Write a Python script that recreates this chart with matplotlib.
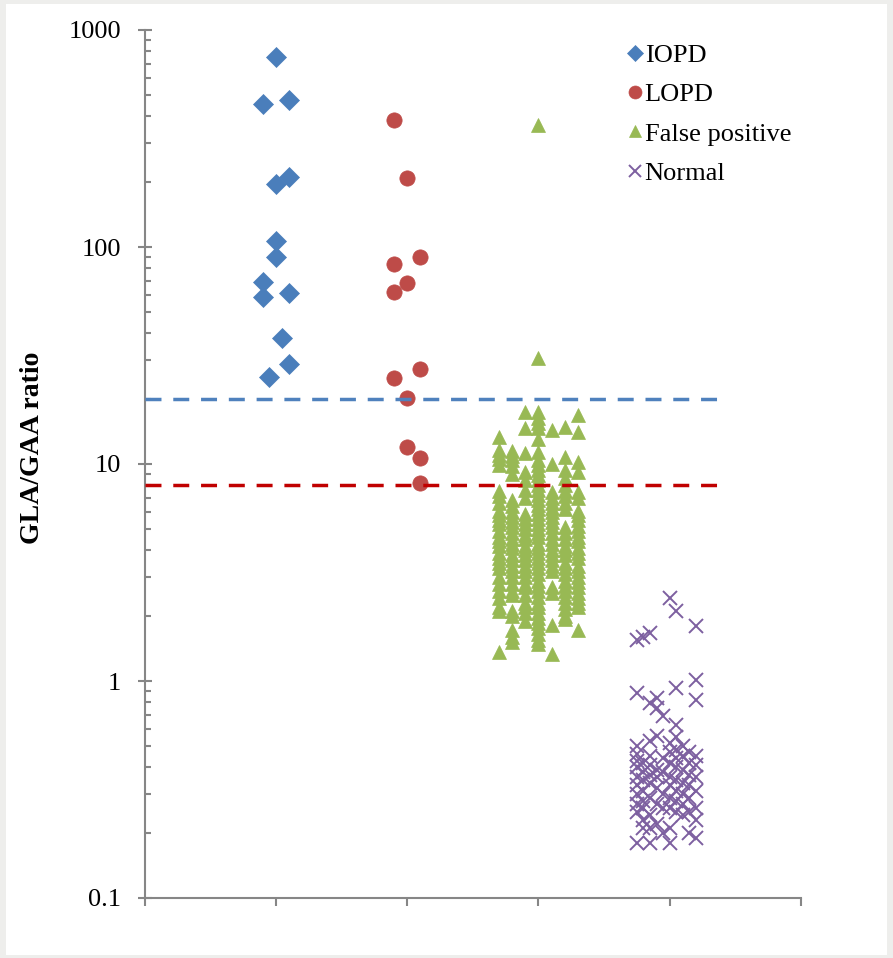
import matplotlib.pyplot as plt
import numpy as np
from matplotlib.patches import Rectangle
from matplotlib.ticker import LogLocator, NullFormatter

plt.rcParams['font.family'] = ['Liberation Serif', 'DejaVu Serif']

# IOPD
iopd_x = [1.0, 0.9, 1.1, 1.0, 1.1, 1.0, 1.0, 0.9, 0.9, 1.1, 1.05, 1.1, 0.95]
iopd_y = [753, 456, 476, 195, 210, 107, 90, 69, 59, 61.6, 37.9, 28.8, 25.3]

# LOPD
lopd_x = [1.9, 2.0, 1.9, 2.1, 2.0, 1.9, 1.9, 2.1, 2.0, 2.0, 2.1, 2.1]
lopd_y = [385, 207, 83.5, 90.2, 68.5, 62.1, 24.8, 27.4, 20.2, 12.0, 10.7, 8.15]

# False positive, one list per column
fp_cols = [2.7, 2.8, 2.9, 3.0, 3.1, 3.2, 3.3]
fp_27 = [13.3, 11.6, 11.0, 10.5, 9.9, 7.5, 7.1, 6.6, 6.1, 5.8, 5.5, 5.3, 4.9, 4.6,
         4.4, 4.2, 3.9, 3.7, 3.5, 3.3, 3.0, 2.8, 2.6, 2.4, 2.2, 2.1, 1.36]
fp_28 = [11.5, 10.9, 10.4, 9.8, 9.0, 6.8, 6.4, 6.0, 5.7, 5.4, 5.1, 4.8, 4.5, 4.3,
         4.1, 3.8, 3.6, 3.4, 3.2, 3.0, 2.8, 2.6, 2.5, 2.1, 2.0, 1.72, 1.6, 1.52]
fp_29 = [17.3, 14.7, 11.2, 9.2, 8.4, 7.6, 7.0, 5.9, 5.6, 5.3, 5.0, 4.7, 4.5, 4.2,
         4.0, 3.8, 3.6, 3.4, 3.2, 3.0, 2.8, 2.7, 2.5, 2.3, 2.2, 2.05, 1.9]
fp_30 = [365, 30.8, 17.3, 16.3, 15.4, 14.6, 13.1, 11.4, 10.4, 9.9, 9.4, 8.9, 8.4,
         8.0, 7.6, 7.2, 6.8, 6.5, 6.2, 5.9, 5.6, 5.3, 5.0, 4.8, 4.6, 4.3, 4.1, 3.9,
         3.7, 3.5, 3.3, 3.1, 2.9, 2.75, 2.6, 2.45, 2.3, 2.2, 2.05, 1.95, 1.85, 1.75,
         1.65, 1.55, 1.48]
fp_31 = [14.3, 10.0, 7.4, 7.0, 6.6, 6.3, 6.0, 5.7, 5.4, 5.1, 4.8, 4.5, 4.3, 4.0,
         3.8, 3.6, 3.4, 3.2, 2.7, 2.55, 1.82, 1.33]
fp_32 = [14.8, 10.8, 9.4, 8.6, 8.0, 7.5, 7.1, 6.6, 6.2, 5.1, 4.8, 4.5, 4.2, 4.0,
         3.8, 3.5, 3.3, 3.1, 2.9, 2.75, 2.6, 2.45, 2.3, 2.15, 2.0, 1.93]
fp_33 = [16.8, 14.1, 10.2, 9.2, 7.4, 7.0, 6.1, 5.8, 5.5, 5.2, 4.9, 4.6, 4.4, 4.1,
         3.9, 3.7, 3.4, 3.2, 3.0, 2.85, 2.7, 2.55, 2.4, 2.3, 2.2, 1.72]
fp_vals = [fp_27, fp_28, fp_29, fp_30, fp_31, fp_32, fp_33]

# Normal, one list per column
nm_cols = [3.75, 3.8, 3.85, 3.9, 3.95, 4.0, 4.05, 4.1, 4.15, 4.2]
nm_375 = [1.55, 0.88, 0.50, 0.46, 0.43, 0.40, 0.36, 0.33, 0.30, 0.27, 0.25, 0.18]
nm_380 = [1.60, 0.42, 0.38, 0.35, 0.31, 0.28, 0.26, 0.23, 0.21]
nm_385 = [1.66, 0.79, 0.53, 0.45, 0.41, 0.37, 0.34, 0.29, 0.24, 0.21, 0.18]
nm_390 = [0.835, 0.75, 0.56, 0.39, 0.36, 0.32, 0.27, 0.22]
nm_395 = [0.69, 0.44, 0.38, 0.30, 0.26, 0.20]
nm_400 = [2.40, 0.52, 0.47, 0.42, 0.36, 0.33, 0.29, 0.26, 0.21, 0.18]
nm_405 = [2.10, 0.93, 0.63, 0.55, 0.48, 0.44, 0.40, 0.35, 0.31, 0.28, 0.25]
nm_410 = [0.50, 0.45, 0.39, 0.34, 0.30, 0.27, 0.24]
nm_415 = [0.47, 0.42, 0.37, 0.33, 0.29, 0.25, 0.20]
nm_420 = [1.80, 1.01, 0.82, 0.45, 0.41, 0.36, 0.31, 0.26, 0.23, 0.19]
nm_vals = [nm_375, nm_380, nm_385, nm_390, nm_395, nm_400, nm_405, nm_410, nm_415, nm_420]

# cut-off lines
cutoffs = [20, 8]
cutoff_colors = ['#4F81BD', '#C00000']
cutoff_end = 4.38

yticks = [0.1, 1, 10, 100, 1000]
ytick_labels = ['0.1', '1', '10', '100', '1000']


def flatten(cols, vals):
    xs, ys = [], []
    for c, v in zip(cols, vals):
        xs += [c] * len(v)
        ys += v
    return xs, ys


fp_x, fp_y = flatten(fp_cols, fp_vals)
nm_x, nm_y = flatten(nm_cols, nm_vals)

fig = plt.figure(figsize=(8.93, 9.58), dpi=100)
fig.patch.set_facecolor('#eeeeec')
fig.add_artist(Rectangle((6 / 893, 3 / 958), 881 / 893, 951 / 958,
                         transform=fig.transFigure, facecolor='white',
                         edgecolor='none', zorder=-10))

ax = fig.add_axes([144.5 / 893, 1 - 898 / 958, (801 - 144.5) / 893, (898 - 30) / 958])
ax.set_facecolor('none')

ax.plot(iopd_x, iopd_y, 'D', ms=10, color='#4A7EBB', mec='#4A7EBB', mew=0.5,
        label='IOPD', zorder=2)
ax.plot(lopd_x, lopd_y, 'o', ms=11, color='#BE4B48', mec='#BE4B48', mew=0.5,
        label='LOPD', zorder=2)
ax.plot(fp_x, fp_y, '^', ms=9.5, color='#98B954', mec='#98B954', mew=0.5,
        label='False positive', zorder=2)
ax.plot(nm_x, nm_y, 'x', ms=10, color='#7D60A0', mew=1.4,
        label='Normal', zorder=2)

for val, col in zip(cutoffs, cutoff_colors):
    ax.hlines(val, 0, cutoff_end, colors=col, linewidth=2.5,
              linestyles=(0, (4.6, 3.4)), zorder=3)

ax.set_yscale('log')
ax.set_ylim(0.1, 1000)
ax.set_xlim(0, 5)
ax.set_xticks(range(6))
ax.set_xticklabels([])
ax.set_yticks(yticks)
ax.set_yticklabels(ytick_labels)
ax.yaxis.set_minor_locator(LogLocator(base=10, subs=np.arange(2, 10)))
ax.yaxis.set_minor_formatter(NullFormatter())

for s in ['top', 'right']:
    ax.spines[s].set_visible(False)
for s in ['left', 'bottom']:
    ax.spines[s].set_color('#868686')
    ax.spines[s].set_linewidth(1.5)

ax.tick_params(axis='y', which='major', direction='inout', length=10, width=1.5,
               color='#868686', labelsize=19, pad=12)
ax.tick_params(axis='y', which='minor', direction='in', length=4.5, width=1.5,
               color='#868686')
ax.tick_params(axis='x', which='major', direction='out', length=6, width=1.5,
               color='#868686')

fig.text(33 / 893, 1 - 448 / 958, 'GLA/GAA ratio', rotation=90, ha='center',
         va='center', fontsize=20, fontweight='bold')

ax.legend(loc='upper left', bbox_to_anchor=(617 / 893, 1 - 33 / 958),
          bbox_transform=fig.transFigure, frameon=False, fontsize=19,
          handlelength=0.6, handletextpad=0.05, labelspacing=0.6,
          markerscale=0.85, borderpad=0.4, borderaxespad=0)

fig.savefig('out.png', dpi=100, facecolor=fig.get_facecolor())
